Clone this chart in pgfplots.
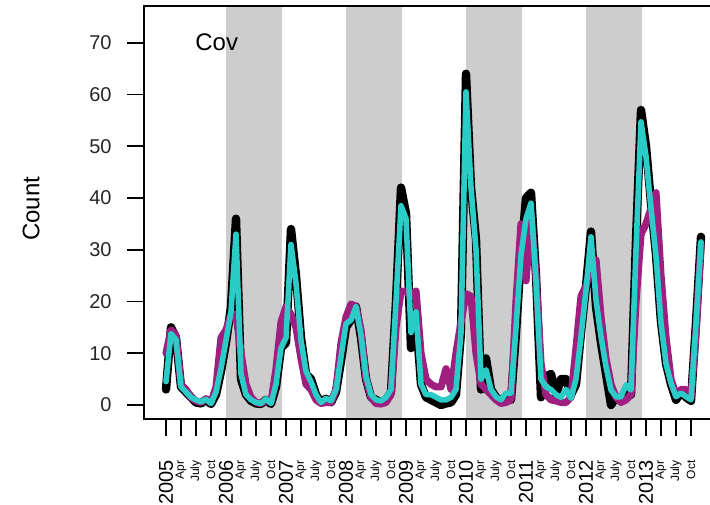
\documentclass[border=0pt]{standalone}
\usepackage{fontspec}
\setmainfont{Liberation Sans}
\usepackage{pgfplots}
\pgfplotsset{compat=1.18}
\usepackage{pgfplotstable}
\definecolor{mag}{HTML}{9E1F7F}
\definecolor{cya}{HTML}{2BCBC8}
\definecolor{shade}{HTML}{CDCDCD}
\newcommand{\yr}[1]{{\fontsize{10}{12}\selectfont #1}}
\pgfplotstableread{
m B M C
0 3 10 4.5
1 15 14.5 13.8
2 13 13.5 12.6
3 3.5 4 3.5
4 2.5 3 2.5
5 1.5 1.5 1.5
6 0.5 0.8 1
7 0.3 0.5 0.6
8 1 1.2 1.1
9 0.2 0.5 0.3
10 2 3.5 2.5
11 6.5 13 7
12 12 14.5 12.5
13 19 17.5 18
14 36 17.5 33
15 5 10 6
16 2 4 2
17 0.8 1.5 1
18 0.3 0.5 0.5
19 0.2 0.3 0.3
20 1 1 1.2
21 0.2 0.5 0.3
22 3.5 7 4
23 11 16 11
24 12 19 13
25 34 17.5 31
26 25 15 23.5
27 13 9 12.5
28 6 4 6.5
29 5 3 4.5
30 2 1 2
31 0.5 0.3 0.5
32 1.2 0.5 1.3
33 0.5 0.5 0.8
34 2.5 3 3
35 8.5 12 9.3
36 15 17 15.7
37 16.5 19.5 16.4
38 19 19 19
39 13 14.5 13.5
40 5 5 5.5
41 1.5 1.5 2
42 1 0.3 1
43 0.5 0.2 0.8
44 1 0.5 1.5
45 2.5 2 3
46 20 15 20
47 42 22 38.5
48 37 22 36
49 11 21 14
50 17 22 18
51 4 10 4
52 1.5 5 2
53 1 4 2
54 0.5 3.5 1.5
55 0 3.5 1
56 0.3 7 1
57 0.5 3 1.5
58 2 10 3
59 14 16 14
60 64 21.5 60.5
61 42 21 42
62 32 10 30
63 3 4 5
64 9 3 6.8
65 3 2 3
66 1.5 1 1.6
67 0.8 0.3 1
68 1 0.5 2.3
69 1 1 2.3
70 14 20 15
71 29 35 29
72 40 24 36
73 41 37 39
74 25 25 24
75 1.5 8 5
76 5.5 2 3.5
77 6 1 3
78 2 0.8 2
79 5 0.5 1.5
80 5 0.5 3
81 2 1.5 1.3
82 4 11 5
83 14 21 13.2
84 23 23 22.2
85 33.5 27 32.5
86 19 28 20.3
87 12 17 13.2
88 6 9 7.4
89 0 4 2.9
90 1.5 1.5 1.6
91 1 0.5 1.6
92 3 1 3.9
93 2 2 2.9
94 32 20 30
95 57 33 54.7
96 50 35 48
97 39 38 38
98 29 41 28.7
99 16 25 15.8
100 8 13 8
101 4 5 4.2
102 1 2 1.6
103 2.5 3 2.3
104 1.5 3 1.6
105 0.8 1.5 1
106 16 14 15.7
107 32.5 31 31.5
}\datatable
\begin{document}
\begin{tikzpicture}
\begin{axis}[
  at={(0,0)}, anchor=south west,
  scale only axis, width=285pt, height=206.5pt,
  xmin=-4.4, xmax=109.6, ymin=-2.705, ymax=77.09,
  axis line style={line width=0.9pt},
  tick align=outside, xtick pos=bottom, ytick pos=left,
  major tick length=8.5pt,
  tick style={line width=0.9pt, black},
  ytick={0,10,...,70},
  xtick={0,3,...,105},
  xticklabels={\yr{2005},Apr,July,Oct,\yr{2006},Apr,July,Oct,\yr{2007},Apr,July,Oct,\yr{2008},Apr,July,Oct,\yr{2009},Apr,July,Oct,\yr{2010},Apr,July,Oct,\yr{2011},Apr,July,Oct,\yr{2012},Apr,July,Oct,\yr{2013},Apr,July,Oct},
  xticklabel style={rotate=90, anchor=east, inner sep=0pt, font=\fontsize{6}{7}\selectfont},
  yticklabel style={anchor=east, inner sep=0pt, font=\fontsize{10}{12}\selectfont, text=black!85},
  xticklabel shift=12pt,
  yticklabel shift=7.5pt,
  /pgf/number format/assume math mode=true,
  clip mode=individual, axis on top,
]
\addplot[fill=shade, draw=none, forget plot] coordinates {(11.9,-5) (23.25,-5) (23.25,80) (11.9,80)} -- cycle;
\addplot[fill=shade, draw=none, forget plot] coordinates {(35.9,-5) (47.25,-5) (47.25,80) (35.9,80)} -- cycle;
\addplot[fill=shade, draw=none, forget plot] coordinates {(59.9,-5) (71.25,-5) (71.25,80) (59.9,80)} -- cycle;
\addplot[fill=shade, draw=none, forget plot] coordinates {(83.9,-5) (95.25,-5) (95.25,80) (83.9,80)} -- cycle;
\addplot[black, line width=4.2pt, line join=round, line cap=round] table[x=m, y=B] {\datatable};
\addplot[mag, line width=3.6pt, line join=round, line cap=round] table[x=m, y=M] {\datatable};
\addplot[cya, line width=2.8pt, line join=round, line cap=round] table[x=m, y=C] {\datatable};
\node[anchor=west, inner sep=0pt, font=\fontsize{12}{14}\selectfont] at (axis cs:5.8,70) {Cov};
\node[rotate=90, font=\fontsize{12}{14}\selectfont] at (axis cs:-27,37.9) {Count};
\end{axis}
\pgfresetboundingbox
\path[use as bounding box] (-72pt,-42.5pt) rectangle (283pt,209.5pt);
\end{tikzpicture}
\end{document}
